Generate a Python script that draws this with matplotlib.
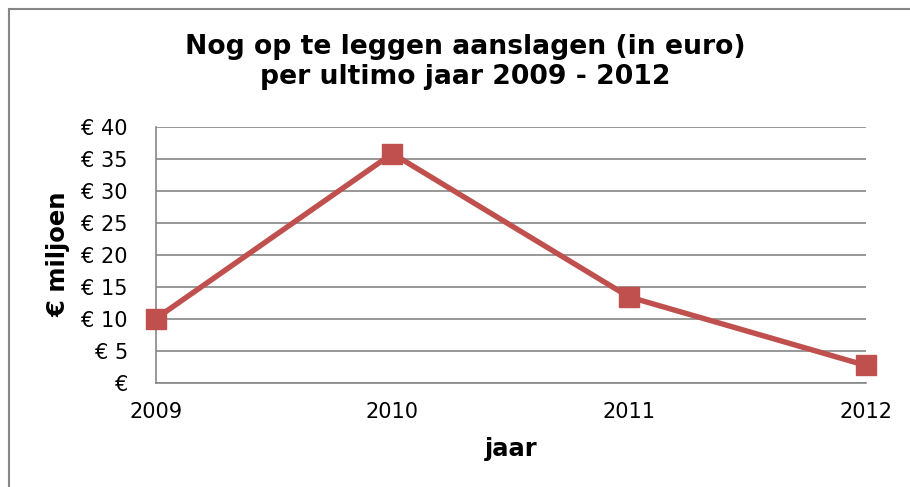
import matplotlib
matplotlib.use("Agg")
import matplotlib.pyplot as plt
from matplotlib.patches import Rectangle

years = ["2009", "2010", "2011", "2012"]
values = [10.0, 35.8, 13.4, 2.7]
yticks = [0, 5, 10, 15, 20, 25, 30, 35, 40]
ytick_labels = ["€"] + [f"€ {v}" for v in yticks[1:]]
title = "Nog op te leggen aanslagen (in euro)\nper ultimo jaar 2009 - 2012"

W, H = 910, 487
fig = plt.figure(figsize=(W / 100, H / 100), dpi=100)
plt.rcParams['font.family'] = ['DejaVu Sans']

# outer frame
fig.patches.append(Rectangle((9 / W, -0.1), 1.2, (H - 9) / H + 0.1, transform=fig.transFigure,
                             fill=False, edgecolor="#868686", linewidth=1.5))

left, right, top, bottom = 155.7, 865.7, 126.7, 382.7
ax = fig.add_axes([left / W, 1 - bottom / H, (right - left) / W, (bottom - top) / H])

x = list(range(len(years)))
ax.plot(x, values, color="#C0504D", linewidth=3.9, marker="s", markersize=14.4,
        markerfacecolor="#C0504D", markeredgecolor="#C0504D", clip_on=False, zorder=3)

ax.set_xlim(0, len(years) - 1)
ax.set_ylim(0, 40)
ax.set_yticks(yticks)
ax.set_yticklabels(ytick_labels)
ax.set_xticks(x)
ax.set_xticklabels(years)
ax.grid(axis="y", color="#868686", linewidth=1.2)
ax.set_axisbelow(True)
for s in ["top", "right"]:
    ax.spines[s].set_visible(False)
for s in ["left", "bottom"]:
    ax.spines[s].set_color("#868686")
    ax.spines[s].set_linewidth(1.2)
ax.tick_params(axis="both", length=0, labelsize=15, colors="black")
ax.tick_params(axis="y", pad=20)
ax.tick_params(axis="x", pad=14)

ax.set_ylabel("€ miljoen", fontsize=17.5, fontweight="bold", labelpad=8)
ax.set_xlabel("jaar", fontsize=17.5, fontweight="bold", labelpad=10.5)

fig.text(465 / W, 1 - 34 / H, title, ha="center", va="top", fontsize=19.2,
         fontweight="bold", linespacing=1.2)

fig.savefig("out.png", dpi=100)
